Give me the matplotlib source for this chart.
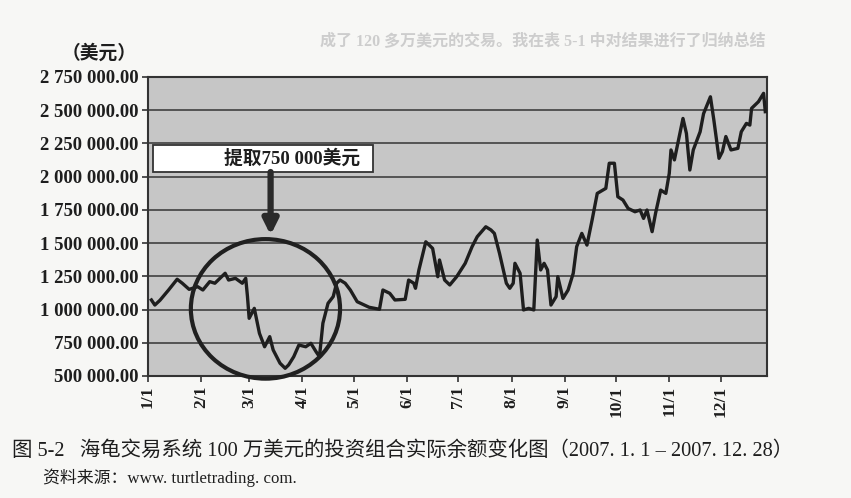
import matplotlib
matplotlib.use('Agg')
import matplotlib.pyplot as plt
import matplotlib.dates as mdates
from matplotlib.patches import Ellipse, Rectangle
from matplotlib.ticker import FuncFormatter
import pandas as pd

# account balance (day offset from 2007-01-01)
day = [2, 4, 7, 12, 17, 20, 24, 29, 32, 36, 39, 45, 47, 51, 55, 57, 58, 59,
       62, 65, 68, 71, 73, 77, 80, 82, 85, 88, 92, 95, 98, 100, 102, 105,
       108, 110, 112, 115, 118, 122, 129, 135, 137, 141, 144, 150, 152, 155,
       156, 158, 162, 166, 169, 170, 173, 176, 180, 185, 189, 192, 197, 200,
       202, 205, 209, 211, 213, 214, 217, 219, 222, 225, 227, 229, 231, 233,
       235, 238, 239, 242, 245, 248, 250, 253, 256, 259, 262, 267, 269, 272,
       274, 277, 280, 284, 287, 289, 291, 294, 296, 299, 302, 304, 305, 307,
       309, 312, 314, 316, 318, 322, 324, 328, 330, 333, 335, 337, 340, 344,
       346, 349, 351, 352, 356, 359, 360]
balance = [1072000, 1034000, 1070000, 1147000, 1228000, 1198000, 1152000,
           1172000, 1147000, 1210000, 1198000, 1273000, 1222000, 1235000,
           1198000, 1235000, 1100000, 934000, 1009000, 821000, 720000, 796000,
           696000, 596000, 558000, 583000, 645000, 733000, 720000, 746000,
           683000, 645000, 897000, 1047000, 1097000, 1198000, 1222000,
           1198000, 1147000, 1059000, 1017000, 1002000, 1147000, 1122000,
           1072000, 1077000, 1222000, 1198000, 1160000, 1298000, 1510000,
           1460000, 1247000, 1373000, 1222000, 1185000, 1247000, 1348000,
           1473000, 1548000, 1623000, 1599000, 1573000, 1423000, 1198000,
           1160000, 1198000, 1348000, 1273000, 997000, 1009000, 997000,
           1523000, 1298000, 1348000, 1298000, 1034000, 1097000, 1247000,
           1084000, 1147000, 1273000, 1473000, 1573000, 1485000, 1674000,
           1874000, 1912000, 2101000, 2101000, 1849000, 1824000, 1761000,
           1736000, 1749000, 1686000, 1749000, 1586000, 1724000, 1899000,
           1874000, 2025000, 2201000, 2126000, 2251000, 2438000, 2325000,
           2050000, 2201000, 2338000, 2474000, 2601000, 2426000, 2138000,
           2189000, 2302000, 2201000, 2213000, 2338000, 2401000, 2388000,
           2514000, 2564000, 2627000, 2489000]

y_ticks = [500000 + 250000 * i for i in range(10)]
unit_label = '（美元）'
note_text = '提取750 000美元'
caption = '图 5-2   海龟交易系统 100 万美元的投资组合实际余额变化图（2007. 1. 1 – 2007. 12. 28）'
source = '资料来源：www. turtletrading. com.'
ghost_line = '成了 120 多万美元的交易。我在表 5-1 中对结果进行了归纳总结'

start = pd.Timestamp('2007-01-01')
dates = start + pd.to_timedelta(day, unit='D')
def at(d):
    return mdates.date2num(start + pd.Timedelta(days=d))

serif = ['Liberation Serif', 'Noto Sans CJK SC']
ink = '#1e1e1e'

fig = plt.figure(figsize=(8.51, 4.98), dpi=100)
fig.patch.set_facecolor('#f7f7f5')
ax = fig.add_axes([0.1739, 0.245, 0.7274, 0.6004])
ax.set_facecolor('#c6c6c6')

for v in y_ticks:
    ax.axhline(v, color='#4a4a4a', lw=1.3, zorder=1)

ax.plot(dates, balance, color=ink, lw=2.4, zorder=3)

ax.set_ylim(500000, 2750000)
ax.set_xlim(start, start + pd.Timedelta(days=361))
ax.set_yticks(y_ticks)
ax.yaxis.set_major_formatter(FuncFormatter(lambda v, p: f'{v:,.2f}'.replace(',', ' ')))
ax.xaxis.set_major_locator(mdates.MonthLocator())
ax.xaxis.set_major_formatter(FuncFormatter(
    lambda v, p: '%d/%d' % (mdates.num2date(v).month, mdates.num2date(v).day)))

for lab in ax.get_yticklabels():
    lab.set_fontfamily(serif)
    lab.set_fontsize(13.5)
    lab.set_fontweight('bold')
    lab.set_color(ink)
for lab in ax.get_xticklabels():
    lab.set_fontfamily(serif)
    lab.set_fontsize(12.5)
    lab.set_fontweight('bold')
    lab.set_rotation(90)
    lab.set_color(ink)
ax.tick_params(axis='both', length=4, width=1.2, color='#333333', pad=3)

for s in ax.spines.values():
    s.set_color('#333333')
    s.set_linewidth(1.5)

# withdrawal note, arrow and circle
ax.add_patch(Rectangle((at(3), 2035000), at(131) - at(3), 203000, fc='white',
                       ec='#333333', lw=1.3, zorder=5))
ax.text(at(84), 2140000, note_text, family=serif,
        fontsize=13.5, fontweight='bold', color=ink, ha='center', va='center',
        zorder=6)
ax.annotate('', xy=(at(71.5), 1560000), xytext=(at(71.5), 2035000),
            arrowprops=dict(arrowstyle='-|>', lw=4.5, color='#2a2a2a',
                            mutation_scale=22, shrinkA=0, shrinkB=0), zorder=5)
ax.add_patch(Ellipse((at(68.5), 1005000), width=87, height=1050000,
                     fill=False, ec='#202020', lw=3, zorder=4, clip_on=False))

fig.text(137 / 851, 1 - 53 / 498, unit_label, family=serif, fontsize=13.5,
         fontweight='bold', ha='right', va='center', color=ink)
fig.text(320 / 851, 1 - 42 / 498, ghost_line, family=serif, fontsize=11.5,
         fontweight='bold', ha='left', va='center', color='#cdcdcd')
fig.text(12 / 851, 1 - 451 / 498, caption, family=serif, fontsize=14.7,
         ha='left', va='center', color=ink)
fig.text(43 / 851, 1 - 478 / 498, source, family=serif, fontsize=12.2,
         ha='left', va='center', color=ink)

fig.savefig('out.png', dpi=100, facecolor=fig.get_facecolor())
